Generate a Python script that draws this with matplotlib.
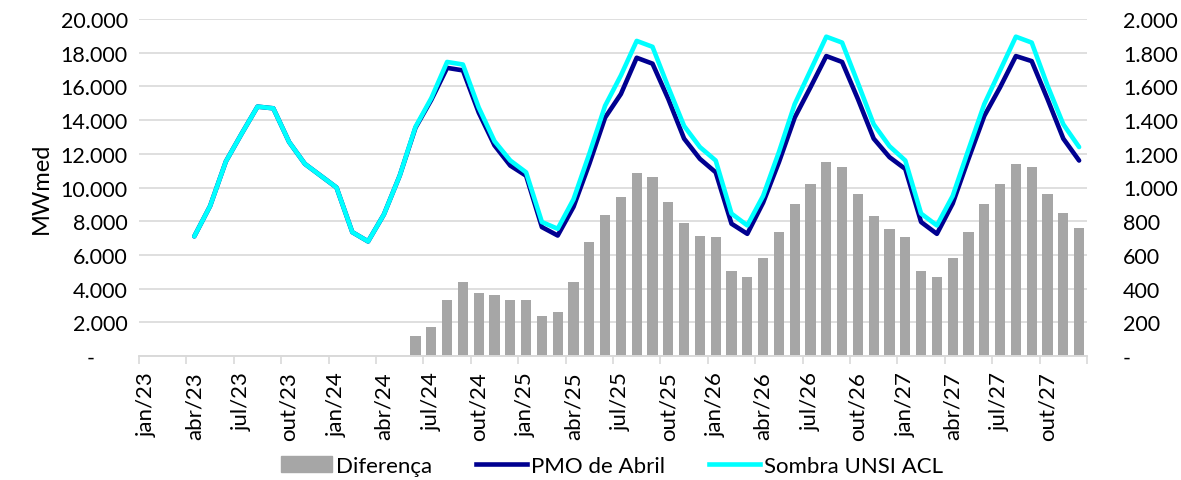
import numpy as np
import matplotlib
matplotlib.use("Agg")
import matplotlib.pyplot as plt
from matplotlib.patches import Patch
from matplotlib.lines import Line2D

plt.rcParams['font.family'] = ['Lato', 'DejaVu Sans']

# meses jan/23 .. dez/27
meses_pt = ['jan', 'fev', 'mar', 'abr', 'mai', 'jun', 'jul', 'ago', 'set', 'out', 'nov', 'dez']
anos = ['23', '24', '25', '26', '27']
meses = [f'{m}/{a}' for a in anos for m in meses_pt]

# MWmed (eixo esquerdo)
sombra = [None, None, None, 7100, 8900, 11550, 13200, 14800, 14700, 12700, 11400, 10700,
          10000, 7350, 6800, 8400, 10700, 13600, 15300, 17450, 17300, 14750, 12750, 11600,
          10900, 7950, 7550, 9300, 12000, 14850, 16650, 18700, 18350, 15950, 13650, 12400,
          11600, 8450, 7750, 9500, 12100, 14950, 16950, 18950, 18600, 16200, 13750, 12450,
          11600, 8450, 7750, 9500, 12250, 14950, 16950, 18950, 18600, 16050, 13750, 12400]
pmo = [None, None, None, 7100, 8900, 11550, 13200, 14800, 14700, 12700, 11400, 10700,
       10000, 7350, 6800, 8400, 10700, 13550, 15200, 17100, 16950, 14450, 12500, 11300,
       10700, 7650, 7150, 8850, 11400, 14150, 15550, 17700, 17350, 15250, 12900, 11700,
       10900, 7850, 7250, 9100, 11500, 14150, 15950, 17800, 17450, 15250, 12900, 11800,
       11100, 7950, 7250, 9050, 11700, 14250, 15950, 17800, 17500, 15250, 12900, 11600]
# Diferença (eixo direito)
diferenca = [None] * 17 + [120, 175, 335, 440, 372, 364, 334,
                           334, 240, 260, 440, 678, 837, 942, 1086, 1064, 916, 789, 714,
                           704, 506, 467, 582, 734, 904, 1019, 1149, 1120, 961, 829, 754,
                           704, 504, 467, 582, 734, 904, 1019, 1141, 1122, 961, 847, 761]

x = np.arange(len(meses))
sombra = np.array(sombra, dtype=float)
pmo = np.array(pmo, dtype=float)
diferenca = np.array(diferenca, dtype=float)


def fmt(v, pos=None):
    if v == 0:
        return '-'
    return f'{v:,.0f}'.replace(',', '.')


fig = plt.figure(figsize=(11.81, 4.81), dpi=100)
ax = fig.add_axes([139 / 1181, 1 - 357 / 481, 948 / 1181, 337 / 481])
ax2 = ax.twinx()

# barras no eixo de baixo (direita), linhas por cima (esquerda)
ax.bar(x, diferenca, width=0.65, color='#a6a6a6', zorder=2)
ax.set_ylim(0, 2000)
ax.set_yticks(np.arange(0, 2001, 200))
ax.yaxis.tick_right()
ax.set_yticklabels([fmt(v) for v in np.arange(0, 2001, 200)])
ax.grid(axis='y', color='#d9d9d9', lw=1.2, zorder=0)
ax.set_axisbelow(True)

ax2.plot(x, pmo, color='#000090', lw=3.3, solid_joinstyle='round', solid_capstyle='round')
ax2.plot(x, sombra, color='#00ffff', lw=3.3, solid_joinstyle='round', solid_capstyle='round')
ax2.set_ylim(0, 20000)
ax2.set_yticks(np.arange(0, 20001, 2000))
ax2.yaxis.tick_left()
ax2.set_yticklabels([fmt(v) if v else '-      ' for v in np.arange(0, 20001, 2000)])
ax2.yaxis.set_label_position('left')
ax2.set_ylabel('MWmed', fontsize=17, labelpad=6)

ax.set_xlim(-0.5, len(meses) - 0.5)
ax.set_xticks(x[::3])
ax.set_xticklabels(meses[::3], rotation=90, fontsize=16)
ax.set_xticks(np.arange(-0.5, len(meses), 3), minor=True)
ax.tick_params(axis='x', which='major', length=0, pad=11)
ax.tick_params(axis='x', which='minor', length=6, color='#d9d9d9', width=1.2)
ax.tick_params(axis='y', length=0, pad=26, labelsize=15.5)
ax2.tick_params(axis='y', length=0, pad=8, labelsize=15.5)

for a in (ax, ax2):
    for s in ('top', 'left', 'right'):
        a.spines[s].set_visible(False)
    a.spines['bottom'].set_color('#d9d9d9')
    a.spines['bottom'].set_linewidth(1.2)

handles = [Patch(color='#a6a6a6'),
           Line2D([], [], color='#000090', lw=3.3),
           Line2D([], [], color='#00ffff', lw=3.3)]
fig.legend(handles, ['Diferença', 'PMO de Abril', 'Sombra UNSI ACL'],
           loc='center', bbox_to_anchor=(612 / 1181, 1 - 467 / 481), ncol=3,
           frameon=False, fontsize=16, handlelength=2.3, handletextpad=0.15,
           columnspacing=2.0)

fig.savefig('out.png', dpi=100)
